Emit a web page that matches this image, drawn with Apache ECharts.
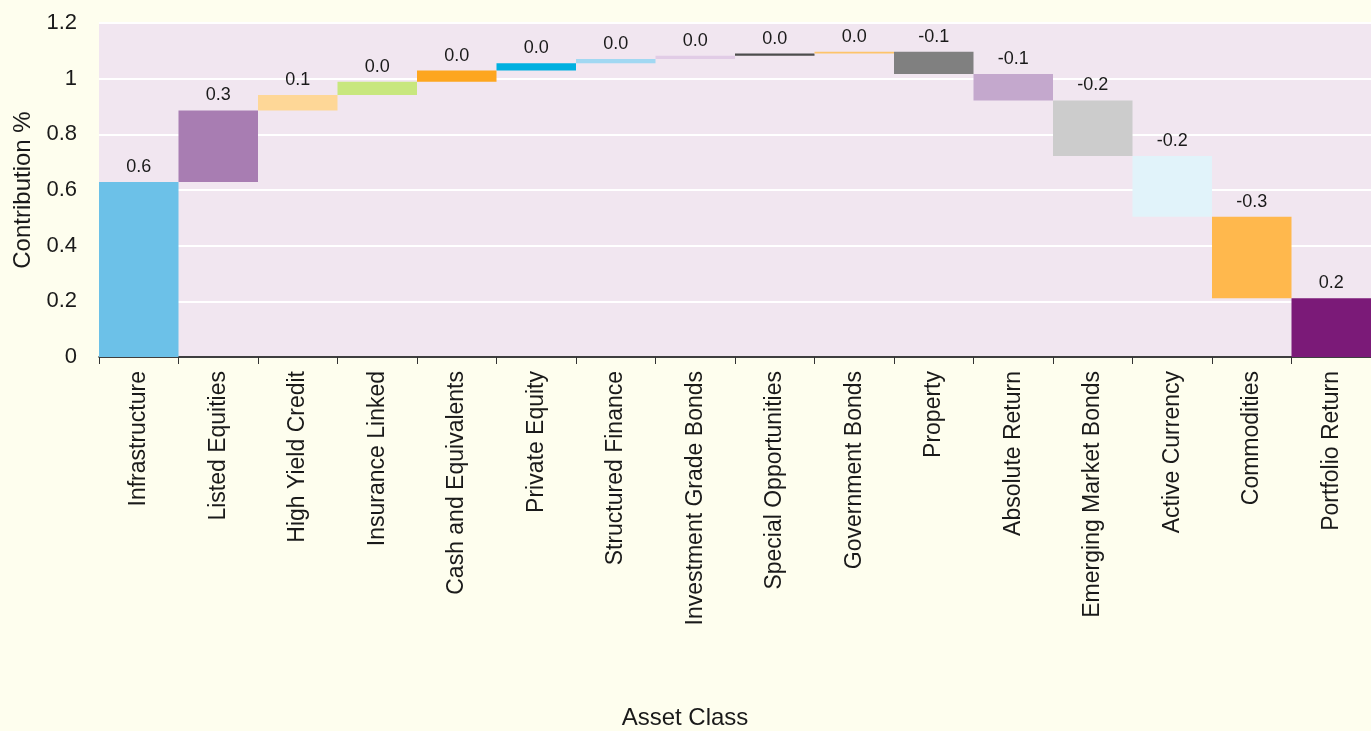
<!DOCTYPE html>
<html>
<head>
<meta charset="utf-8">
<script src="https://cdn.jsdelivr.net/npm/echarts@6/dist/echarts.min.js"></script>
<style>
html,body{margin:0;padding:0;background:#fefeee;}
#chart{width:1371px;height:731px;}
</style>
</head>
<body>
<div id="chart"></div>
<script>
const categories = ["Infrastructure","Listed Equities","High Yield Credit","Insurance Linked","Cash and Equivalents","Private Equity","Structured Finance","Investment Grade Bonds","Special Opportunities","Government Bonds","Property","Absolute Return","Emerging Market Bonds","Active Currency","Commodities","Portfolio Return"];
const contributions = [0.629,0.257,0.055,0.048,0.040,0.026,0.016,0.011,0.008,0.007,-0.080,-0.095,-0.200,-0.218,-0.293,0.211];
const isTotal = [false,false,false,false,false,false,false,false,false,false,false,false,false,false,false,true];
const barColors = ["#6cc1e8","#a87db2","#fed797","#c8e77e","#fda61f","#00b0e0","#a1d8f2","#e1cce6","#4d4d4d","#fdc46a","#808080","#c4a8cd","#cccccc","#e1f3fa","#ffb84d","#7b1a78"];
const yTicks = [0,0.2,0.4,0.6,0.8,1,1.2];

const baseData = [];
const valueData = [];
let cum = 0;
contributions.forEach((v,i)=>{
  if (isTotal[i]) {
    baseData.push(0);
    valueData.push({value:v, raw:v, itemStyle:{color:barColors[i]}});
  } else if (v >= 0) {
    baseData.push(cum);
    valueData.push({value:v, raw:v, itemStyle:{color:barColors[i]}});
    cum += v;
  } else {
    cum += v;
    baseData.push(cum);
    valueData.push({value:-v, raw:v, itemStyle:{color:barColors[i]}});
  }
});

const font = "'Liberation Sans', Arial, Helvetica, sans-serif";
const chart = echarts.init(document.getElementById('chart'));
chart.setOption({
  backgroundColor:'#fefeee',
  animation:false,
  grid:{left:99,right:0,top:23,bottom:372,show:true,backgroundColor:'#f1e6f0',borderWidth:0},
  xAxis:{
    type:'category',
    data:categories,
    name:'Asset Class',
    nameLocation:'middle',
    nameGap:349,
    nameTextStyle:{fontFamily:font,fontSize:24,color:'#1a1a1a',padding:[0,100,0,0]},
    axisLine:{lineStyle:{color:'#000',width:1.5}},
    axisTick:{show:true,length:7,lineStyle:{color:'#333'}},
    axisLabel:{rotate:90,fontFamily:font,fontSize:23,color:'#1a1a1a',margin:14,interval:0},
    splitLine:{show:false}
  },
  yAxis:{
    type:'value',
    min:yTicks[0],
    max:yTicks[yTicks.length-1],
    interval:0.2,
    name:'Contribution %',
    nameLocation:'middle',
    nameGap:64,
    nameTextStyle:{fontFamily:font,fontSize:24,color:'#1a1a1a'},
    axisLine:{show:false},
    axisTick:{show:false},
    axisLabel:{fontFamily:font,fontSize:22,color:'#1a1a1a',margin:22,
      formatter:v=>{const r=Math.round(v*10)/10; return r===0?'0':(r===1?'1':r.toFixed(1));}},
    splitLine:{show:true,lineStyle:{color:'#ffffff',width:2}}
  },
  series:[
    {type:'bar',stack:'w',data:baseData,itemStyle:{color:'transparent'},barCategoryGap:'0%',silent:true},
    {type:'bar',stack:'w',data:valueData,barCategoryGap:'0%',
      label:{show:true,position:'top',distance:6,fontFamily:font,fontSize:18,color:'#1a1a1a',
        formatter:p=>p.data.raw.toFixed(1)}}
  ]
});
</script>
</body>
</html>
